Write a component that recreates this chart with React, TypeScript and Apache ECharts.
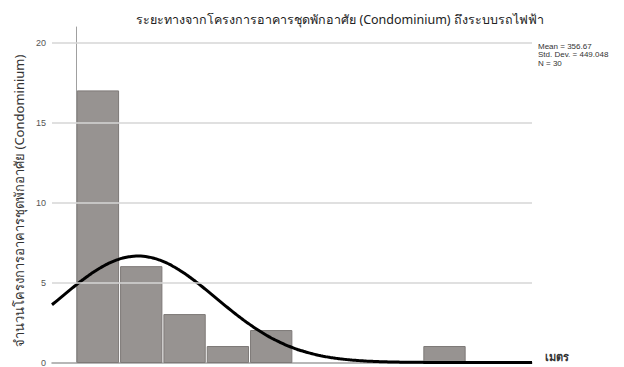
import React, { useEffect, useRef } from "react";
import * as echarts from "echarts";

// Histogram of distances (metres) with a fitted normal curve
const TITLE = "ระยะทางจากโครงการอาคารชุดพักอาศัย (Condominium) ถึงระบบรถไฟฟ้า";
const Y_NAME = "จำนวนโครงการอาคารชุดพักอาศัย (Condominium)";
const X_NAME = "เมตร";

const BIN_WIDTH = 250;
const BIN_STARTS = [0, 250, 500, 750, 1000, 2000];
const BIN_COUNTS = [17, 6, 3, 1, 2, 1];

const MEAN = 356.67;
const STD_DEV = 449.048;
const N = 30;

const Y_TICKS = [0, 5, 10, 15, 20];
const GRID_LINES = [5, 10, 15, 20];

const X_MIN = -140;
const X_MAX = 2630;
const Y_MAX = 21;

// Expected count per bin under the fitted normal distribution
function normalCurve(): number[][] {
  const pts: number[][] = [];
  const steps = 200;
  for (let i = 0; i <= steps; i++) {
    const x = X_MIN + ((X_MAX - X_MIN) * i) / steps;
    const z = (x - MEAN) / STD_DEV;
    const y = (N * BIN_WIDTH * Math.exp(-0.5 * z * z)) / (STD_DEV * Math.sqrt(2 * Math.PI));
    pts.push([x, y]);
  }
  return pts;
}

export default function App() {
  const ref = useRef<HTMLDivElement>(null);

  useEffect(() => {
    if (!ref.current) return;
    const chart = echarts.init(ref.current, undefined, { renderer: "svg" });

    const bins = BIN_STARTS.map((s, i) => [s, s + BIN_WIDTH, BIN_COUNTS[i]]);

    chart.setOption({
      animation: false,
      backgroundColor: "#ffffff",
      textStyle: { fontFamily: "'Noto Sans', sans-serif" },
      title: {
        text: TITLE,
        left: 335,
        textAlign: "center",
        top: 8,
        textStyle: { fontSize: 12.5, fontWeight: "normal", color: "#222222", fontFamily: "'Noto Sans', sans-serif" },
      },
      grid: { left: 52, right: 92, top: 27, bottom: 4, containLabel: false },
      xAxis: {
        type: "value",
        min: X_MIN,
        max: X_MAX,
        name: X_NAME,
        nameLocation: "end",
        nameGap: 13,
        nameTextStyle: {
          fontSize: 11,
          lineHeight: 12,
          color: "#333333",
          fontWeight: "bold",
          verticalAlign: "bottom",
        },
        axisLine: { show: true, lineStyle: { color: "#a0a0a0", width: 1.5 } },
        axisTick: { show: false },
        axisLabel: { show: false },
        splitLine: { show: false },
      },
      yAxis: {
        type: "value",
        min: 0,
        max: Y_MAX,
        interval: 5,
        name: Y_NAME,
        nameLocation: "middle",
        nameRotate: 90,
        nameGap: 27,
        nameTextStyle: { fontSize: 13, color: "#333333", padding: [0, 12, 0, 0] },
        axisLine: { show: true, lineStyle: { color: "#a0a0a0", width: 1 } },
        axisTick: { show: false },
        axisLabel: {
          fontSize: 9,
          color: "#555555",
          margin: 6,
          fontFamily: "'Liberation Sans', Arial, sans-serif",
          formatter: (v: number) => (Y_TICKS.includes(v) ? String(v) : ""),
        },
        splitLine: { show: false },
      },
      graphic: [
        {
          type: "text",
          left: 538,
          top: 42,
          style: {
            text: `Mean = ${MEAN.toFixed(2)}\nStd. Dev. = ${STD_DEV.toFixed(3)}\nN = ${N}`,
            fontSize: 8,
            lineHeight: 8.5,
            fill: "#333333",
            fontFamily: "'Liberation Sans Narrow', 'Liberation Sans', Arial, sans-serif",
          },
        },
      ],
      series: [
        {
          // horizontal reference lines behind the bars
          type: "line",
          data: [],
          z: 1,
          silent: true,
          markLine: {
            silent: true,
            symbol: "none",
            label: { show: false },
            lineStyle: { color: "#d6d6d6", type: "solid", width: 1.5 },
            data: GRID_LINES.map((v) => ({ yAxis: v })),
          },
        },
        {
          type: "custom",
          z: 2,
          data: bins,
          renderItem: (_params: any, api: any) => {
            const start = api.coord([api.value(0), api.value(2)]);
            const end = api.coord([api.value(1), 0]);
            return {
              type: "rect",
              shape: {
                x: start[0] + 1,
                y: start[1],
                width: end[0] - start[0] - 2,
                height: end[1] - start[1],
              },
              style: { fill: "#979391", stroke: "#7d7977", lineWidth: 1 },
            };
          },
        },
        {
          type: "line",
          z: 3,
          data: normalCurve(),
          showSymbol: false,
          smooth: true,
          lineStyle: { color: "#000000", width: 3 },
        },
      ],
    });

    return () => chart.dispose();
  }, []);

  return (
    <div
      ref={ref}
      style={{ position: "fixed", left: 0, top: 0, width: 624, height: 367 }}
    />
  );
}
